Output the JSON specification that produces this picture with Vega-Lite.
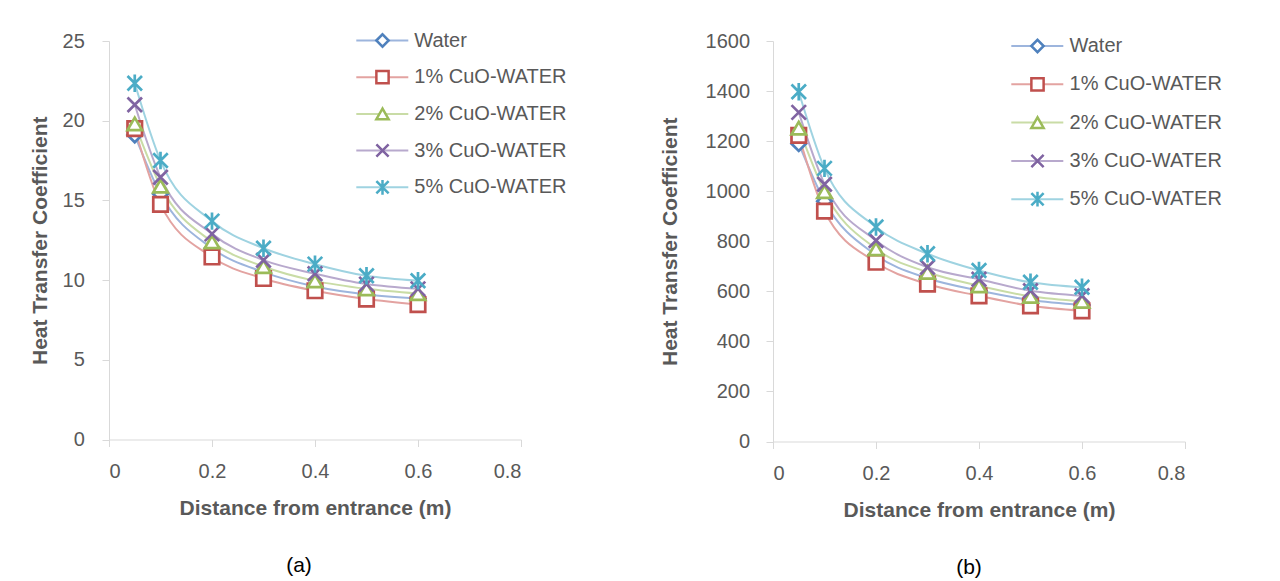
{
  "$schema": "https://vega.github.io/schema/vega-lite/v6.json",
  "padding": {"left": 29, "top": 30, "right": 5, "bottom": 5},
  "background": "white",
  "spacing": 252,
  "bounds": "flush",
  "config": {
    "view": {"stroke": null},
    "font": "Liberation Sans",
    "axis": {
      "grid": false,
      "domainColor": "#d9d9d9",
      "tickColor": "#d9d9d9",
      "tickSize": 7,
      "labelFont": "Liberation Sans",
      "labelFontSize": 20,
      "labelColor": "#595959",
      "titleFont": "Liberation Sans",
      "titleFontSize": 21,
      "titleFontWeight": "bold",
      "titleColor": "#595959"
    },
    "legend": {
      "labelFont": "Liberation Sans",
      "labelFontSize": 20,
      "labelColor": "#595959",
      "padding": 0,
      "title": null
    }
  },
  "datasets": {
    "a": [
      {"x": 0.05, "h": 19.1, "series": "Water"},
      {"x": 0.1, "h": 15.4, "series": "Water"},
      {"x": 0.2, "h": 12.0, "series": "Water"},
      {"x": 0.3, "h": 10.5, "series": "Water"},
      {"x": 0.4, "h": 9.6, "series": "Water"},
      {"x": 0.5, "h": 9.1, "series": "Water"},
      {"x": 0.6, "h": 8.85, "series": "Water"},
      {"x": 0.05, "h": 19.5, "series": "1% CuO-WATER"},
      {"x": 0.1, "h": 14.75, "series": "1% CuO-WATER"},
      {"x": 0.2, "h": 11.45, "series": "1% CuO-WATER"},
      {"x": 0.3, "h": 10.1, "series": "1% CuO-WATER"},
      {"x": 0.4, "h": 9.33, "series": "1% CuO-WATER"},
      {"x": 0.5, "h": 8.81, "series": "1% CuO-WATER"},
      {"x": 0.6, "h": 8.46, "series": "1% CuO-WATER"},
      {"x": 0.05, "h": 19.8, "series": "2% CuO-WATER"},
      {"x": 0.1, "h": 15.9, "series": "2% CuO-WATER"},
      {"x": 0.2, "h": 12.4, "series": "2% CuO-WATER"},
      {"x": 0.3, "h": 10.85, "series": "2% CuO-WATER"},
      {"x": 0.4, "h": 9.95, "series": "2% CuO-WATER"},
      {"x": 0.5, "h": 9.45, "series": "2% CuO-WATER"},
      {"x": 0.6, "h": 9.15, "series": "2% CuO-WATER"},
      {"x": 0.05, "h": 21.0, "series": "3% CuO-WATER"},
      {"x": 0.1, "h": 16.45, "series": "3% CuO-WATER"},
      {"x": 0.2, "h": 12.9, "series": "3% CuO-WATER"},
      {"x": 0.3, "h": 11.25, "series": "3% CuO-WATER"},
      {"x": 0.4, "h": 10.4, "series": "3% CuO-WATER"},
      {"x": 0.5, "h": 9.75, "series": "3% CuO-WATER"},
      {"x": 0.6, "h": 9.45, "series": "3% CuO-WATER"},
      {"x": 0.05, "h": 22.35, "series": "5% CuO-WATER"},
      {"x": 0.1, "h": 17.5, "series": "5% CuO-WATER"},
      {"x": 0.2, "h": 13.7, "series": "5% CuO-WATER"},
      {"x": 0.3, "h": 12.0, "series": "5% CuO-WATER"},
      {"x": 0.4, "h": 11.0, "series": "5% CuO-WATER"},
      {"x": 0.5, "h": 10.27, "series": "5% CuO-WATER"},
      {"x": 0.6, "h": 9.96, "series": "5% CuO-WATER"}
    ],
    "b": [
      {"x": 0.05, "h": 1190, "series": "Water"},
      {"x": 0.1, "h": 960, "series": "Water"},
      {"x": 0.2, "h": 745, "series": "Water"},
      {"x": 0.3, "h": 652, "series": "Water"},
      {"x": 0.4, "h": 603, "series": "Water"},
      {"x": 0.5, "h": 565, "series": "Water"},
      {"x": 0.6, "h": 545, "series": "Water"},
      {"x": 0.05, "h": 1223, "series": "1% CuO-WATER"},
      {"x": 0.1, "h": 920, "series": "1% CuO-WATER"},
      {"x": 0.2, "h": 716, "series": "1% CuO-WATER"},
      {"x": 0.3, "h": 629, "series": "1% CuO-WATER"},
      {"x": 0.4, "h": 582, "series": "1% CuO-WATER"},
      {"x": 0.5, "h": 542, "series": "1% CuO-WATER"},
      {"x": 0.6, "h": 522, "series": "1% CuO-WATER"},
      {"x": 0.05, "h": 1252, "series": "2% CuO-WATER"},
      {"x": 0.1, "h": 998, "series": "2% CuO-WATER"},
      {"x": 0.2, "h": 770, "series": "2% CuO-WATER"},
      {"x": 0.3, "h": 676, "series": "2% CuO-WATER"},
      {"x": 0.4, "h": 622, "series": "2% CuO-WATER"},
      {"x": 0.5, "h": 580, "series": "2% CuO-WATER"},
      {"x": 0.6, "h": 560, "series": "2% CuO-WATER"},
      {"x": 0.05, "h": 1315, "series": "3% CuO-WATER"},
      {"x": 0.1, "h": 1028, "series": "3% CuO-WATER"},
      {"x": 0.2, "h": 803, "series": "3% CuO-WATER"},
      {"x": 0.3, "h": 696, "series": "3% CuO-WATER"},
      {"x": 0.4, "h": 648, "series": "3% CuO-WATER"},
      {"x": 0.5, "h": 602, "series": "3% CuO-WATER"},
      {"x": 0.6, "h": 582, "series": "3% CuO-WATER"},
      {"x": 0.05, "h": 1397, "series": "5% CuO-WATER"},
      {"x": 0.1, "h": 1091, "series": "5% CuO-WATER"},
      {"x": 0.2, "h": 857, "series": "5% CuO-WATER"},
      {"x": 0.3, "h": 750, "series": "5% CuO-WATER"},
      {"x": 0.4, "h": 683, "series": "5% CuO-WATER"},
      {"x": 0.5, "h": 636, "series": "5% CuO-WATER"},
      {"x": 0.6, "h": 616, "series": "5% CuO-WATER"}
    ]
  },
  "hconcat": [
    {
      "width": 412,
      "height": 398.5,
      "data": {"name": "a"},
      "title": {"text": "(a)", "orient": "bottom", "fontSize": 21, "fontWeight": "normal", "color": "black", "font": "Liberation Sans", "offset": 36, "dx": -16},
      "encoding": {
        "x": {"field": "x", "type": "quantitative", "title": "Distance from entrance (m)",
              "scale": {"domain": [0, 0.8]},
              "axis": {"values": [0, 0.2, 0.4, 0.6, 0.8], "format": "~g", "labelPadding": 15, "titlePadding": 16}},
        "y": {"field": "h", "type": "quantitative", "title": "Heat Transfer Coefficient",
              "scale": {"domain": [0, 25]},
              "axis": {"values": [0, 5, 10, 15, 20, 25], "labelPadding": 17.7, "titlePadding": 12}}
      },
      "layer": [
        {
          "mark": {"type": "line", "interpolate": "monotone", "strokeWidth": 2},
          "encoding": {
            "detail": {"field": "series"},
            "color": {"field": "series", "type": "nominal",
              "scale": {"domain": ["Water", "1% CuO-WATER", "2% CuO-WATER", "3% CuO-WATER", "5% CuO-WATER"],
                        "range": ["#9db5dd", "#e3a3a1", "#c9dca6", "#b8a9cd", "#9fd3e1"]},
              "legend": {"orient": "none", "legendX": 246.3, "legendY": -10.5, "symbolType": "stroke", "symbolSize": 2704, "symbolStrokeWidth": 2, "labelOffset": 5, "clipHeight": 20, "rowPadding": 16.7}}
          }
        },
        {
          "mark": {"type": "point", "filled": false, "fill": "white", "size": 210, "strokeWidth": 2.7, "opacity": 1},
          "encoding": {
            "color": {"field": "series", "type": "nominal",
              "scale": {"domain": ["Water", "1% CuO-WATER", "2% CuO-WATER", "3% CuO-WATER", "5% CuO-WATER"],
                        "range": ["#4f81bd", "#c0504d", "#9bbb59", "#8064a2", "#4bacc6"]},
              "legend": {"orient": "none", "legendX": 263.5, "legendY": -10.5, "symbolSize": 150, "symbolStrokeWidth": 2.5, "symbolFillColor": "white", "labelExpr": "''", "clipHeight": 20, "rowPadding": 16.7, "zindex": 2}},
            "shape": {"field": "series", "type": "nominal",
              "legend": {"orient": "none", "legendX": 263.5, "legendY": -10.5, "symbolSize": 150, "symbolStrokeWidth": 2.5, "symbolFillColor": "white", "labelExpr": "''", "clipHeight": 20, "rowPadding": 16.7, "zindex": 2},
              "scale": {"domain": ["Water", "1% CuO-WATER", "2% CuO-WATER", "3% CuO-WATER", "5% CuO-WATER"],
                        "range": ["diamond", "square", "triangle-up", "M-1,-1L1,1M-1,1L1,-1", "M-1,-1L1,1M-1,1L1,-1M0,-1.2L0,1.2"]}}
          }
        }
      ],
      "resolve": {"scale": {"color": "independent", "shape": "independent"}}
    },
    {
      "width": 412,
      "height": 400.5,
      "data": {"name": "b"},
      "title": {"text": "(b)", "orient": "bottom", "fontSize": 21, "fontWeight": "normal", "color": "black", "font": "Liberation Sans", "offset": 36, "dx": -10},
      "encoding": {
        "x": {"field": "x", "type": "quantitative", "title": "Distance from entrance (m)",
              "scale": {"domain": [0, 0.8]},
              "axis": {"values": [0, 0.2, 0.4, 0.6, 0.8], "format": "~g", "labelPadding": 15, "titlePadding": 16}},
        "y": {"field": "h", "type": "quantitative", "title": "Heat Transfer Coefficient",
              "scale": {"domain": [0, 1600]},
              "axis": {"values": [0, 200, 400, 600, 800, 1000, 1200, 1400, 1600], "format": "d", "labelPadding": 16.4, "titlePadding": 25}}
      },
      "layer": [
        {
          "mark": {"type": "line", "interpolate": "monotone", "strokeWidth": 2},
          "encoding": {
            "detail": {"field": "series"},
            "color": {"field": "series", "type": "nominal",
              "scale": {"domain": ["Water", "1% CuO-WATER", "2% CuO-WATER", "3% CuO-WATER", "5% CuO-WATER"],
                        "range": ["#9db5dd", "#e3a3a1", "#c9dca6", "#b8a9cd", "#9fd3e1"]},
              "legend": {"orient": "none", "legendX": 237.3, "legendY": -5, "symbolType": "stroke", "symbolSize": 2704, "symbolStrokeWidth": 2, "labelOffset": 5.3, "clipHeight": 20, "rowPadding": 18.3}}
          }
        },
        {
          "mark": {"type": "point", "filled": false, "fill": "white", "size": 210, "strokeWidth": 2.7, "opacity": 1},
          "encoding": {
            "color": {"field": "series", "type": "nominal",
              "scale": {"domain": ["Water", "1% CuO-WATER", "2% CuO-WATER", "3% CuO-WATER", "5% CuO-WATER"],
                        "range": ["#4f81bd", "#c0504d", "#9bbb59", "#8064a2", "#4bacc6"]},
              "legend": {"orient": "none", "legendX": 254.5, "legendY": -5, "symbolSize": 150, "symbolStrokeWidth": 2.5, "symbolFillColor": "white", "labelExpr": "''", "clipHeight": 20, "rowPadding": 18.3, "zindex": 2}},
            "shape": {"field": "series", "type": "nominal",
              "legend": {"orient": "none", "legendX": 254.5, "legendY": -5, "symbolSize": 150, "symbolStrokeWidth": 2.5, "symbolFillColor": "white", "labelExpr": "''", "clipHeight": 20, "rowPadding": 18.3, "zindex": 2},
              "scale": {"domain": ["Water", "1% CuO-WATER", "2% CuO-WATER", "3% CuO-WATER", "5% CuO-WATER"],
                        "range": ["diamond", "square", "triangle-up", "M-1,-1L1,1M-1,1L1,-1", "M-1,-1L1,1M-1,1L1,-1M0,-1.2L0,1.2"]}}
          }
        }
      ],
      "resolve": {"scale": {"color": "independent", "shape": "independent"}}
    }
  ]
}
